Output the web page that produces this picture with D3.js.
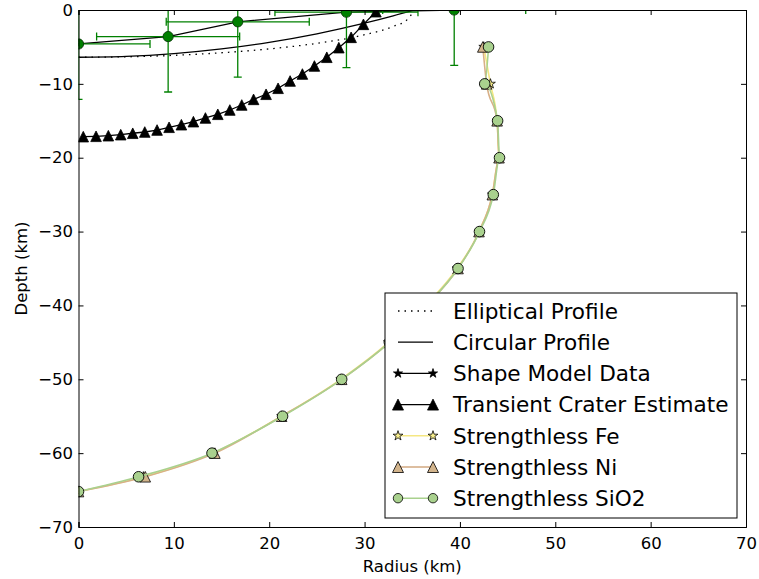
<!DOCTYPE html>
<html>
<head>
<meta charset="utf-8">
<script src="https://cdn.jsdelivr.net/npm/d3@7"></script>
<style>
  body { margin: 0; background: #fff; }
  svg { font-family: "DejaVu Sans", sans-serif; }
</style>
</head>
<body>
<svg id="chart"></svg>
<script>
// circular / elliptical fits (radius km, depth km)
const circularRadius = [0, 5, 10, 15, 20, 25, 30, 33, 35.2];
const circularDepth = [-6.4, -6.28, -5.9, -5.27, -4.38, -3.23, -1.79, -0.8, 0];
const ellipticalRadius = [0, 5, 10, 15, 20, 25, 30, 33, 34.5, 35.2];
const ellipticalDepth = [-6.4, -6.34, -6.14, -5.79, -5.27, -4.51, -3.35, -2.23, -1.27, 0];

// shape model data with error bars
const shapeRadius = [0, 9.4, 16.7, 28.1, 39.4];
const shapeDepth = [-4.6, -3.6, -1.6, -0.3, 0];
const shapeRadiusErr = [7.5, 7.5, 7.5, 7.5, 7.5];
const shapeDepthErr = [7.5, 7.5, 7.5, 7.5, 7.5];

// transient crater estimate
const transientRadius = [0.5, 1.84, 3.13, 4.43, 5.69, 6.95, 8.24, 9.5, 10.79, 12.05, 13.31, 14.61,
  15.87, 17.12, 18.36, 19.67, 20.93, 22.19, 23.48, 24.74, 26.04, 27.3, 28.59, 29.88, 31.19];
const transientDepth = [-17.15, -17.1, -17.02, -16.88, -16.69, -16.52, -16.25, -15.88, -15.53, -15.12,
  -14.62, -14.12, -13.54, -12.86, -12.1, -11.41, -10.6, -9.61, -8.67, -7.58, -6.4, -5.1, -3.7, -1.94, -0.23];

// strengthless runs
const strengthlessDepth = [-5, -10, -15, -20, -25, -30, -35, -40, -45, -50, -55, -60, -63.2, -65.2];
const feRadius = [42.5, 43.2, 43.9, 44.1, 43.4, 42.0, 39.7, 36.4, 32.5, 27.5, 21.3, 14.1, 6.8, 0];
const niRadius = [42.4, 42.8, 43.9, 44.1, 43.4, 42.0, 39.8, 36.5, 32.6, 27.6, 21.3, 14.3, 7.0, 0];
const sio2Radius = [43.0, 42.6, 43.95, 44.15, 43.5, 42.05, 39.8, 36.5, 32.6, 27.6, 21.4, 14.0, 6.3, 0];

const xTicks = [0, 10, 20, 30, 40, 50, 60, 70];
const yTicks = [0, -10, -20, -30, -40, -50, -60, -70];
const legendLabels = ["Elliptical Profile", "Circular Profile", "Shape Model Data",
  "Transient Crater Estimate", "Strengthless Fe", "Strengthless Ni", "Strengthless SiO2"];

class CraterChart {
  margin = { top: 10, right: 13, bottom: 52, left: 78.5 };

  constructor(svg, width = 759, height = 579) {
    this.svg = svg;
    this.width = width - this.margin.left - this.margin.right;
    this.height = height - this.margin.top - this.margin.bottom;
  }

  initialize() {
    this.svg = d3.select(this.svg)
      .attr("width", this.width + this.margin.left + this.margin.right)
      .attr("height", this.height + this.margin.top + this.margin.bottom);
    this.container = this.svg.append("g")
      .attr("transform", `translate(${this.margin.left}, ${this.margin.top})`);

    this.xScale = d3.scaleLinear().domain([0, 70]).range([0, this.width]);
    this.yScale = d3.scaleLinear().domain([-70, 0]).range([this.height, 0]);

    this.container.append("clipPath").attr("id", "plot-clip")
      .append("rect").attr("width", this.width).attr("height", this.height);
    this.plot = this.container.append("g").attr("clip-path", "url(#plot-clip)");
  }

  triangle(s) {
    return `M0,${-s}L${s},${s}L${-s},${s}Z`;
  }

  drawLine(xs, ys, color, width, dash) {
    const line = d3.line()
      .x((d) => this.xScale(d[0]))
      .y((d) => this.yScale(d[1]))
      .curve(d3.curveMonotoneX);
    const path = this.plot.append("path")
      .attr("d", line(d3.zip(xs, ys)))
      .attr("fill", "none")
      .attr("stroke", color)
      .attr("stroke-width", width);
    if (dash) path.attr("stroke-dasharray", dash);
  }

  drawPolyline(xs, ys, color, width) {
    const line = d3.line().x((d) => this.xScale(d[0])).y((d) => this.yScale(d[1]));
    this.plot.append("path")
      .attr("d", line(d3.zip(xs, ys)))
      .attr("fill", "none")
      .attr("stroke", color)
      .attr("stroke-width", width);
  }

  drawMarkers(xs, ys, pathStr, fill, stroke, sw) {
    this.plot.append("g")
      .selectAll("path")
      .data(d3.zip(xs, ys))
      .join("path")
      .attr("d", pathStr)
      .attr("transform", (d) => `translate(${this.xScale(d[0])}, ${this.yScale(d[1])})`)
      .attr("fill", fill)
      .attr("stroke", stroke)
      .attr("stroke-width", sw);
  }

  drawErrorBars() {
    const g = this.plot.append("g").attr("stroke", "#008000").attr("stroke-width", 1.3);
    const cap = 4;
    d3.zip(shapeRadius, shapeDepth, shapeRadiusErr, shapeDepthErr).forEach(([r, z, re, ze]) => {
      const cx = this.xScale(r), cy = this.yScale(z);
      const x0 = this.xScale(r - re), x1 = this.xScale(r + re);
      const y0 = this.yScale(z + ze), y1 = this.yScale(z - ze);
      g.append("line").attr("x1", x0).attr("x2", x1).attr("y1", cy).attr("y2", cy);
      g.append("line").attr("x1", cx).attr("x2", cx).attr("y1", y0).attr("y2", y1);
      [x0, x1].forEach((x) => g.append("line").attr("x1", x).attr("x2", x).attr("y1", cy - cap).attr("y2", cy + cap));
      [y0, y1].forEach((y) => g.append("line").attr("y1", y).attr("y2", y).attr("x1", cx - cap).attr("x2", cx + cap));
    });
  }

  drawAxes() {
    const fmt = d3.format("d");
    const ax = this.container.append("g");
    ax.append("g").attr("transform", `translate(0, ${this.height})`)
      .call(d3.axisBottom(this.xScale).tickValues(xTicks).tickSize(-5).tickPadding(10.5).tickFormat(fmt));
    ax.append("g")
      .call(d3.axisTop(this.xScale).tickValues(xTicks).tickSize(-5).tickFormat(""));
    ax.append("g")
      .call(d3.axisLeft(this.yScale).tickValues(yTicks).tickSize(-5).tickPadding(5.5).tickFormat(fmt));
    ax.append("g").attr("transform", `translate(${this.width}, 0)`)
      .call(d3.axisRight(this.yScale).tickValues(yTicks).tickSize(-5).tickFormat(""));
    ax.selectAll(".domain").attr("stroke", "#000").attr("stroke-width", 1);
    ax.selectAll(".tick line").attr("stroke", "#000");
    ax.selectAll("text").attr("fill", "#000").attr("font-family", "DejaVu Sans").attr("font-size", 16.5);

    this.container.append("text")
      .attr("x", this.width / 2).attr("y", this.height + 45)
      .attr("text-anchor", "middle").attr("font-size", 16.5)
      .text("Radius (km)");
    this.container.append("text")
      .attr("transform", `translate(${-52}, ${this.height / 2}) rotate(-90)`)
      .attr("text-anchor", "middle").attr("font-size", 16.5)
      .text("Depth (km)");
  }

  drawLegend() {
    const lg = this.svg.append("g").attr("transform", "translate(385, 293)");
    lg.append("rect").attr("width", 352).attr("height", 225)
      .attr("fill", "#fff").attr("stroke", "#000").attr("stroke-width", 1);
    const styles = [
      { color: "#000", dash: "1.5,5" },
      { color: "#000" },
      { color: "#000", marker: d3.symbol(d3.symbolStar, 26)(), fill: "#000", edge: "#000" },
      { color: "#000", marker: this.triangle(5.5), fill: "#000", edge: "#000" },
      { color: "#f5e783", marker: d3.symbol(d3.symbolStar, 30)(), fill: "#f8ee8c", edge: "#000" },
      { color: "#d2a980", marker: this.triangle(5.5), fill: "#d2b48c", edge: "#000" },
      { color: "#a9d18e", marker: d3.symbol(d3.symbolCircle, 70)(), fill: "#a9d18e", edge: "#000" },
    ];
    const rows = lg.selectAll("g.row")
      .data(legendLabels)
      .join("g")
      .attr("class", "row")
      .attr("transform", (d, i) => `translate(0, ${18 + i * 31.2})`);
    rows.append("line")
      .attr("x1", 13).attr("x2", 48).attr("y1", 0).attr("y2", 0)
      .attr("stroke", (d, i) => styles[i].color)
      .attr("stroke-width", (d, i) => (i >= 4 ? 1.5 : 1.3))
      .attr("stroke-dasharray", (d, i) => styles[i].dash || null);
    rows.each(function (d, i) {
      const s = styles[i];
      if (!s.marker) return;
      [13, 48].forEach((x) => {
        d3.select(this).append("path")
          .attr("d", s.marker)
          .attr("transform", `translate(${x}, 0)`)
          .attr("fill", s.fill).attr("stroke", s.edge).attr("stroke-width", 0.8);
      });
    });
    rows.append("text")
      .attr("x", 68).attr("y", 0).attr("dy", "0.36em")
      .attr("font-size", 21.6)
      .text((d) => d);
  }

  update() {
    this.drawLine(ellipticalRadius, ellipticalDepth, "#000", 1.3, "1.5,5");
    this.drawLine(circularRadius, circularDepth, "#000", 1.3);
    this.drawPolyline(shapeRadius, shapeDepth, "#000", 1.3);
    this.drawMarkers(shapeRadius, shapeDepth, d3.symbol(d3.symbolStar, 26)(), "#000", "#000", 0.8);
    this.drawErrorBars();
    this.drawMarkers(shapeRadius, shapeDepth, d3.symbol(d3.symbolCircle, 82)(), "#008000", "#0a3a0a", 0.9);
    this.drawPolyline(transientRadius, transientDepth, "#000", 1.3);
    this.drawMarkers(transientRadius, transientDepth, this.triangle(5.3), "#000", "#000", 0.8);

    this.drawLine(feRadius, strengthlessDepth, "#f5e783", 1.6);
    this.drawMarkers(feRadius, strengthlessDepth, d3.symbol(d3.symbolStar, 30)(), "#f8ee8c", "#000", 0.8);
    this.drawLine(niRadius, strengthlessDepth, "#d8b087", 1.6);
    this.drawMarkers(niRadius, strengthlessDepth, this.triangle(5.3), "#d2b48c", "#000", 0.8);
    this.drawLine(sio2Radius, strengthlessDepth, "#a9d18e", 1.6);
    this.drawMarkers(sio2Radius, strengthlessDepth, d3.symbol(d3.symbolCircle, 88)(), "#a9d18e", "#000", 0.9);

    this.drawAxes();
    this.drawLegend();
  }
}

const chart = new CraterChart(document.getElementById("chart"));
chart.initialize();
chart.update();
</script>
</body>
</html>
